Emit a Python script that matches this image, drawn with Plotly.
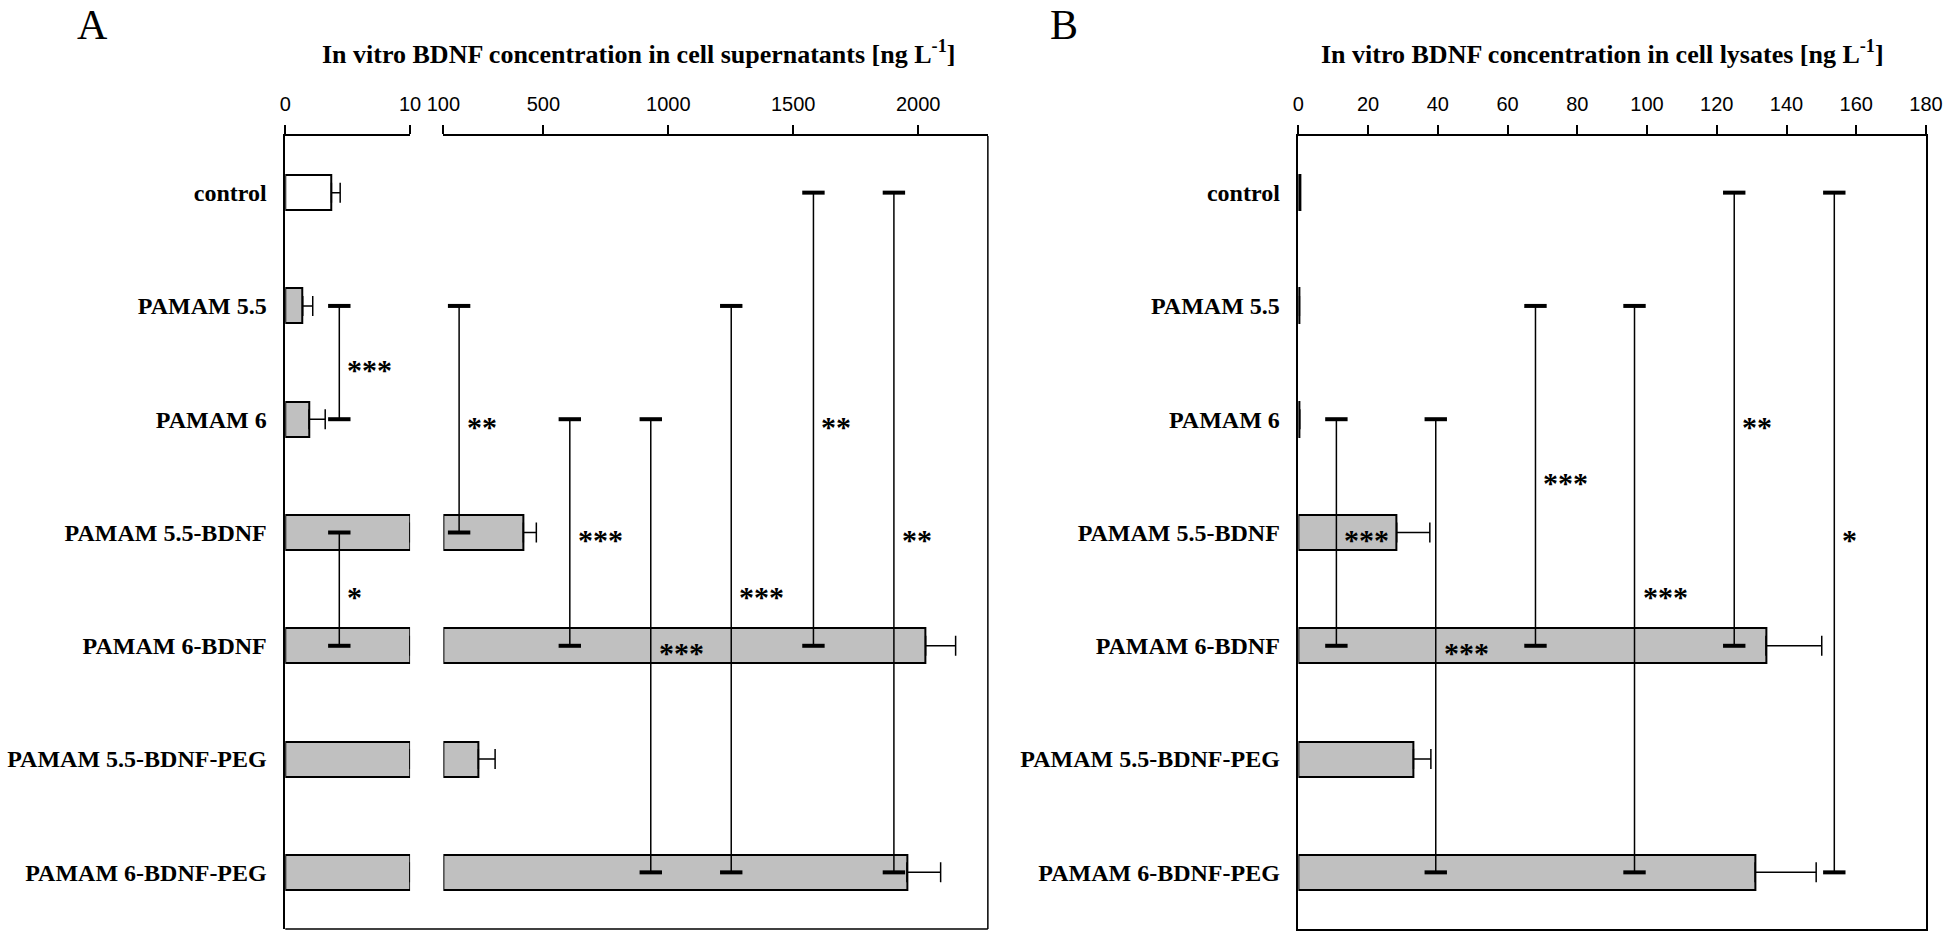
import plotly.graph_objects as go

W, H = 1960, 932

categories = ["control", "PAMAM 5.5", "PAMAM 6", "PAMAM 5.5-BDNF", "PAMAM 6-BDNF",
              "PAMAM 5.5-BDNF-PEG", "PAMAM 6-BDNF-PEG"]
sup_mean = [3.7, 1.4, 1.9, 420, 2030, 240, 1955]
sup_err = [0.7, 0.8, 1.3, 52, 120, 67, 135]
lys_mean = [0.5, 0.3, 0.4, 28.2, 134.1, 33.0, 131.0]
lys_err = [0.0, 0.0, 0.0, 9.5, 16.0, 5.0, 17.5]

# significance brackets: (x value, from category, to category, label, label row)
sig_sup_low = [(4.33, 1, 2, "***", 1.5), (4.33, 3, 4, "*", 3.5)]
sig_sup_high = [(163, 1, 3, "**", 2), (606, 2, 4, "***", 3), (930, 2, 6, "***", 4),
                (1252, 1, 6, "***", 3.5), (1581, 0, 4, "**", 2), (1903, 0, 6, "**", 3)]
sig_lys = [(10.9, 2, 4, "***", 3), (39.4, 2, 6, "***", 4), (68, 1, 4, "***", 2.5),
           (96.4, 1, 6, "***", 3.5), (125, 0, 4, "**", 2), (153.7, 0, 6, "*", 3)]

low_break = 10
high_start = 100

SERIF = "Liberation Serif"
SANS = "Liberation Sans"
GRAY = "#c0c0c0"
idx = list(range(len(categories)))
fills = ["white"] + [GRAY] * (len(categories) - 1)

fig = go.Figure()

# Panel A, low segment (0-10)
low_vals = [min(v, low_break) for v in sup_mean]
low_err = [e if v < low_break else 0 for v, e in zip(sup_mean, sup_err)]
fig.add_trace(go.Bar(
    x=low_vals, y=idx, orientation="h", xaxis="x", yaxis="y", width=0.31,
    marker=dict(color=fills, line=dict(color="black", width=2)),
    error_x=dict(type="data", array=low_err, arrayminus=[0] * len(low_err), symmetric=False,
                 color="black", thickness=1.5, width=10),
    showlegend=False, hoverinfo="skip"))

# Panel A, high segment (100+)
hi_y = [i for i, v in zip(idx, sup_mean) if v > high_start]
hi_len = [v - high_start for v in sup_mean if v > high_start]
hi_err = [e for v, e in zip(sup_mean, sup_err) if v > high_start]
fig.add_trace(go.Bar(
    x=hi_len, y=hi_y, base=high_start, orientation="h", xaxis="x2", yaxis="y", width=0.31,
    marker=dict(color=GRAY, line=dict(color="black", width=2)),
    error_x=dict(type="data", array=hi_err, arrayminus=[0] * len(hi_err), symmetric=False,
                 color="black", thickness=1.5, width=10),
    showlegend=False, hoverinfo="skip"))

# Panel B
fig.add_trace(go.Bar(
    x=lys_mean, y=idx, orientation="h", xaxis="x3", yaxis="y2", width=0.31,
    marker=dict(color=GRAY, line=dict(color="black", width=2)),
    error_x=dict(type="data", array=lys_err, arrayminus=[0] * len(lys_err), symmetric=False,
                 color="black", thickness=1.5, width=10),
    showlegend=False, hoverinfo="skip"))

annotations = []


def add_brackets(sigs, xa, ya):
    for bx, a, b, lab, ly in sigs:
        fig.add_trace(go.Scatter(
            x=[bx, bx], y=[a, b], mode="lines+markers", xaxis=xa, yaxis=ya,
            line=dict(color="black", width=1.5),
            marker=dict(symbol="line-ew", size=16, line=dict(color="black", width=4)),
            showlegend=False, hoverinfo="skip", cliponaxis=False))
        annotations.append(dict(
            x=bx, y=ly, xref=xa, yref=ya, text=lab, showarrow=False,
            xanchor="left", yanchor="middle", xshift=6, yshift=-7,
            font=dict(family=SERIF, size=30, color="black", weight="bold")))


add_brackets(sig_sup_low, "x", "y")
add_brackets(sig_sup_high, "x2", "y")
add_brackets(sig_lys, "x3", "y2")

ydom = [1 - 929 / H, 1 - 136 / H]
xcommon = dict(side="top", ticks="outside", ticklen=9, tickwidth=1.5, tickcolor="black",
               showline=True, linewidth=1.5, linecolor="black", showgrid=False, zeroline=False,
               tickfont=dict(family=SANS, size=20, color="black"), ticklabelstandoff=6)
ycommon = dict(range=[6.5, -0.5], tickvals=idx, ticktext=categories, ticks="",
               showline=True, linewidth=1.5, linecolor="black", showgrid=False, zeroline=False,
               tickfont=dict(family=SERIF, size=24, color="black", weight="bold"),
               ticklabelstandoff=12, domain=ydom)

fig.update_layout(
    width=W, height=H, margin=dict(l=0, r=0, t=0, b=0),
    paper_bgcolor="white", plot_bgcolor="rgba(0,0,0,0)",
    bargap=0,
    xaxis=dict(domain=[273 / W, 400 / W], range=[0, low_break], anchor="y",
               tickvals=[0, 10], **xcommon),
    xaxis2=dict(domain=[433.9 / W, 988 / W], range=[high_start, 2279], anchor="y",
                tickvals=[100, 500, 1000, 1500, 2000], **xcommon),
    xaxis3=dict(domain=[1304 / W, 1942.7 / W], range=[0, 180], anchor="y2",
                tickvals=list(range(0, 181, 20)), mirror=True, **xcommon),
    yaxis=dict(anchor="x", **ycommon),
    yaxis2=dict(anchor="x3", mirror=True, **ycommon),
)

# frame of panel A (bottom and right edges)
fig.add_shape(type="line", xref="paper", yref="paper", x0=273 / W, x1=988 / W,
              y0=ydom[0], y1=ydom[0], line=dict(color="black", width=1.5))
fig.add_shape(type="line", xref="paper", yref="paper", x0=988 / W, x1=988 / W,
              y0=ydom[0], y1=ydom[1], line=dict(color="black", width=1.5))

annotations += [
    dict(x=632 / W, y=1 - 53 / H, xref="paper", yref="paper", showarrow=False,
         text="In vitro BDNF concentration in cell supernatants [ng L<sup>-1</sup>]",
         font=dict(family=SERIF, size=26, color="black", weight="bold"),
         xanchor="center", yanchor="middle"),
    dict(x=1613 / W, y=1 - 53 / H, xref="paper", yref="paper", showarrow=False,
         text="In vitro BDNF concentration in cell lysates [ng L<sup>-1</sup>]",
         font=dict(family=SERIF, size=26, color="black", weight="bold"),
         xanchor="center", yanchor="middle"),
    dict(x=77 / W, y=1, xref="paper", yref="paper", showarrow=False, text="A",
         font=dict(family=SERIF, size=42, color="black"), xanchor="center", yanchor="top"),
    dict(x=1065 / W, y=1, xref="paper", yref="paper", showarrow=False, text="B",
         font=dict(family=SERIF, size=42, color="black"), xanchor="center", yanchor="top"),
]
fig.update_layout(annotations=annotations)

fig.write_html("out.html", config={"displayModeBar": False},
               post_script="document.body.style.margin='0';")
